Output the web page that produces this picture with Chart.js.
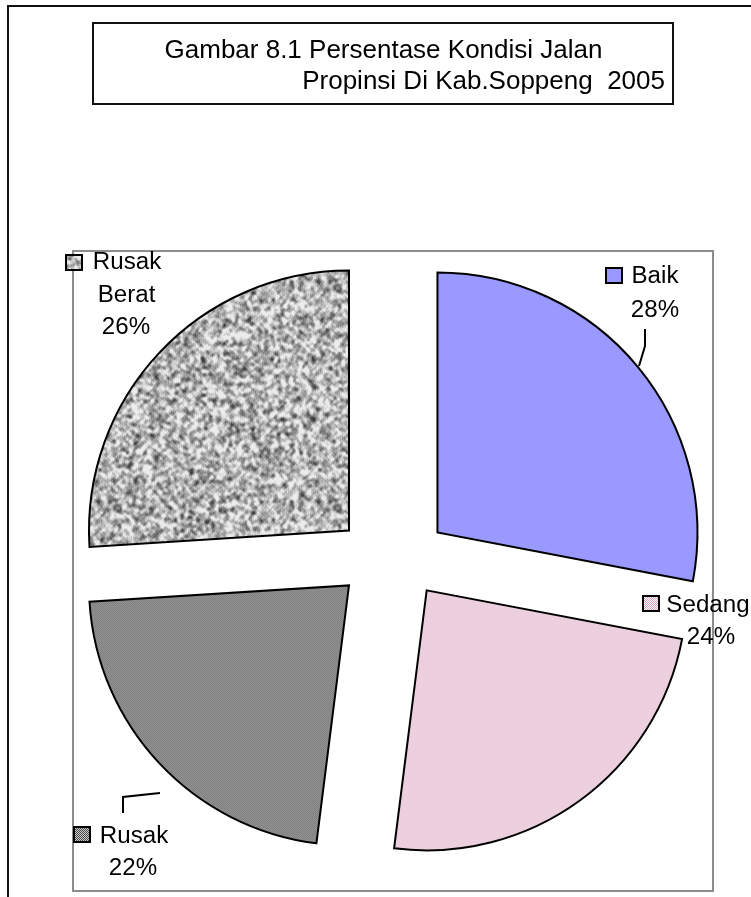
<!DOCTYPE html>
<html><head><meta charset="utf-8">
<script src="https://cdn.jsdelivr.net/npm/chart.js@4.4.0/dist/chart.umd.min.js"></script>
<style>html,body{margin:0;padding:0;background:#fff;overflow:hidden}#wrap{position:relative;width:751px;height:897px}</style>
</head><body><div id="wrap"><canvas id="c" width="751" height="897"></canvas></div>
<script>
// ---- data ----
const categories = ['Baik', 'Sedang', 'Rusak', 'Rusak Berat'];
const percentages = [28, 24, 22, 26];
const titleLines = ['Gambar 8.1 Persentase Kondisi Jalan', 'Propinsi Di Kab.Soppeng  2005'];

// ---- layout / style (not data) ----
const FONT = '"Liberation Sans", Arial, sans-serif';
const TSX = 1.05;          // horizontal stretch of label text
const PIE_R = 260;
const EXPLODE_X = 59;      // explosion distance, horizontal component
const EXPLODE_Y = 40;      // explosion distance, vertical component
// label anchors: [textCenterX, baselineY] per line, and legend key box
const labelLayout = [
  {lines: [[655, 283], [655, 317]], key: [606, 268]},
  {lines: [[708, 612], [711, 644]], key: [643, 596]},
  {lines: [[134, 843], [133, 875]], key: [74, 827]},
  {lines: [[127, 269], [126.5, 302], [126, 334]], key: [66, 255]}
];

function hash(x, y) {
  let n = Math.imul(x, 374761393) + Math.imul(y, 668265263);
  n = Math.imul(n ^ (n >>> 13), 1274126177);
  n = n ^ (n >>> 16);
  return (n >>> 0) / 4294967295;
}
function patternCanvas(w, h, fn) {
  const c = document.createElement('canvas'); c.width = w; c.height = h;
  const g = c.getContext('2d'); const img = g.createImageData(w, h);
  for (let y = 0; y < h; y++) for (let x = 0; x < w; x++) {
    const [r, gg, b] = fn(x, y); const i = (y * w + x) * 4;
    img.data[i] = r; img.data[i + 1] = gg; img.data[i + 2] = b; img.data[i + 3] = 255;
  }
  g.putImageData(img, 0, 0); return c;
}
const ctx0 = document.getElementById('c').getContext('2d');
const sedangTile = patternCanvas(4, 4, (x, y) => ((x + y) % 2 === 0) ? [218, 160, 190] : [255, 255, 255]);
const rusakTile = patternCanvas(4, 4, (x, y) => ((x + y) % 2 === 0) ? [70, 70, 70] : [205, 205, 205]);
// granite-like texture tile (deterministic hash noise, two scales)
const N = 220;
const raw = [];
for (let y = 0; y < N; y++) for (let x = 0; x < N; x++) raw.push(hash(x + 17, y + 31));
function blur(x, y, r) {
  let s = 0, c = 0;
  for (let dy = -r; dy <= r; dy++) for (let dx = -r; dx <= r; dx++) {
    s += raw[((y + dy + N) % N) * N + ((x + dx + N) % N)]; c++;
  }
  return s / c;
}
const beratTile = patternCanvas(N, N, (x, y) => {
  const coarse = blur(x, y, 2), mid = blur(x, y, 1), fine = raw[y * N + x];
  const v = Math.max(60, Math.min(236, Math.round(180 + (coarse - 0.5) * 480 + (mid - 0.5) * 150 + (fine - 0.5) * 40)));
  return [v, v, v];
});
const fills = [
  '#9999FF',
  ctx0.createPattern(sedangTile, 'repeat'),
  ctx0.createPattern(rusakTile, 'repeat'),
  ctx0.createPattern(beratTile, 'repeat')
];

// Exploded slices: each arc (computed by Chart.js) is drawn moved outward along its mid-angle
const explodePlugin = {
  id: 'explode',
  beforeDatasetDraw(chart, args) {
    const ctx = chart.ctx;
    args.meta.data.forEach(a => {
      const mid = (a.startAngle + a.endAngle) / 2;
      ctx.save();
      ctx.translate(Math.cos(mid) * EXPLODE_X, Math.sin(mid) * EXPLODE_Y);
      a.draw(ctx, chart.chartArea);
      ctx.restore();
    });
    return false;
  }
};

function drawText(ctx, txt, x, by, align, sx) {
  ctx.save(); ctx.translate(x, by); ctx.scale(sx, 1);
  ctx.textAlign = align; ctx.textBaseline = 'alphabetic';
  ctx.fillText(txt, 0, 0); ctx.restore();
}

const decorPlugin = {
  id: 'decor',
  beforeDraw(chart) {
    const ctx = chart.ctx; ctx.save();
    ctx.fillStyle = '#fff'; ctx.fillRect(0, 0, 751, 897);
    ctx.restore();
  },
  afterDraw(chart) {
    const ctx = chart.ctx; ctx.save();
    // outer frame
    ctx.strokeStyle = '#111'; ctx.lineWidth = 2;
    ctx.strokeRect(8, 6, 800, 1000);
    // plot area frame
    ctx.strokeStyle = '#8c8c8c'; ctx.lineWidth = 2;
    ctx.strokeRect(73, 251, 640, 640);
    // title box
    ctx.strokeStyle = '#111'; ctx.lineWidth = 2;
    ctx.strokeRect(93, 23, 580, 81);
    ctx.fillStyle = '#000'; ctx.font = '26px ' + FONT;
    drawText(ctx, titleLines[0], 383.5, 58, 'center', 1);
    drawText(ctx, titleLines[1], 665, 89, 'right', 1);

    // data labels
    ctx.font = '23px ' + FONT;
    categories.forEach((cat, i) => {
      const L = labelLayout[i];
      const words = cat === 'Rusak Berat' ? cat.split(' ') : [cat];
      const lines = words.concat([percentages[i] + '%']);
      lines.forEach((t, j) => {
        const p = L.lines[j];
        ctx.fillStyle = '#000';
        drawText(ctx, t, p[0], p[1], 'center', TSX);
      });
      // legend key
      ctx.fillStyle = fills[i];
      ctx.fillRect(L.key[0], L.key[1], 16, 15);
      ctx.strokeStyle = '#000'; ctx.lineWidth = 2;
      ctx.strokeRect(L.key[0], L.key[1], 16, 15);
    });
    // leader lines
    ctx.strokeStyle = '#000'; ctx.lineWidth = 2;
    ctx.beginPath(); ctx.moveTo(645, 329); ctx.lineTo(645, 346); ctx.lineTo(639, 366); ctx.stroke();
    ctx.beginPath(); ctx.moveTo(123, 813); ctx.lineTo(123, 797); ctx.lineTo(160, 793); ctx.stroke();
    ctx.restore();
  }
};

new Chart(document.getElementById('c'), {
  type: 'pie',
  data: {
    labels: categories,
    datasets: [{
      data: percentages,
      backgroundColor: fills,
      borderColor: '#000',
      borderWidth: 2,
      borderJoinStyle: 'miter',
      radius: PIE_R,
      clip: false
    }]
  },
  options: {
    responsive: false,
    animation: false,
    events: [],
    rotation: 0,
    layout: {padding: {left: 36, right: 3, top: 220, bottom: 1}},
    plugins: {legend: {display: false}, tooltip: {enabled: false}, title: {display: false}}
  },
  plugins: [decorPlugin, explodePlugin]
});
</script></body></html>
